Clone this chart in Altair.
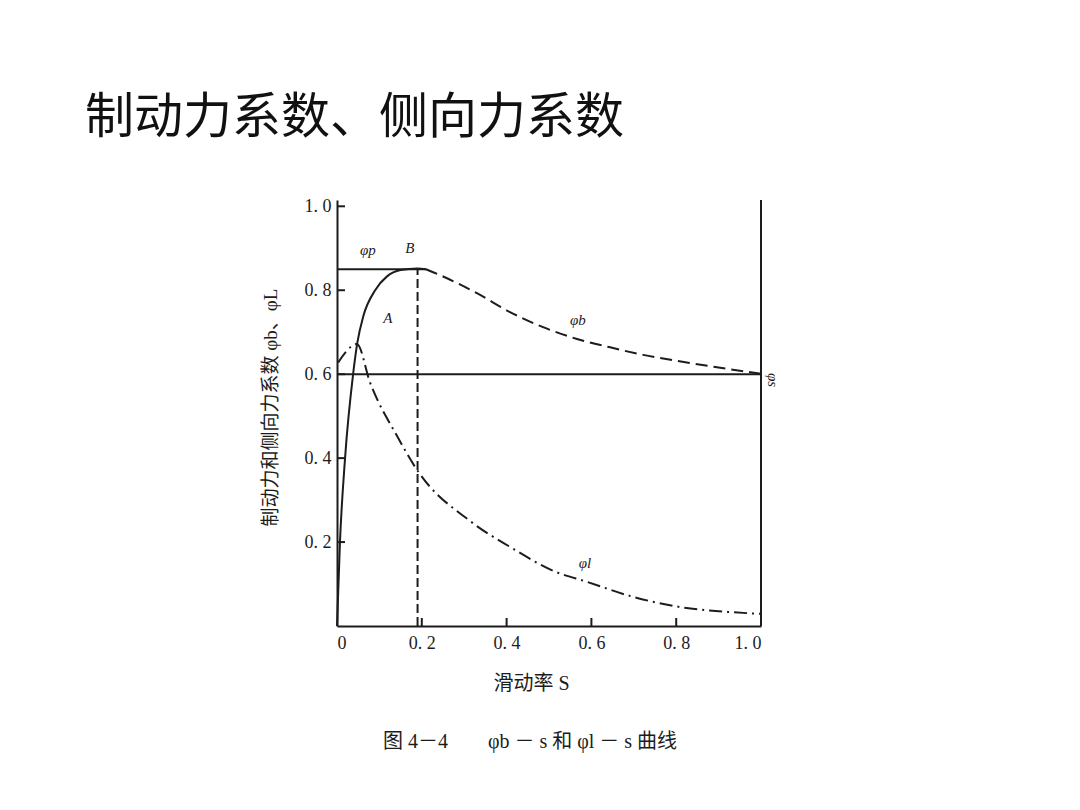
import altair as alt
import pandas as pd

# ---- data ----
rise_s = [0.0, 0.007, 0.019, 0.038, 0.048, 0.062, 0.09, 0.118, 0.15, 0.19, 0.21]
rise_v = [0.0, 0.2, 0.4, 0.6, 0.675, 0.738, 0.80, 0.833, 0.848, 0.852, 0.85]

fall_s = [0.21, 0.243, 0.33, 0.408, 0.486, 0.566, 0.644, 0.722, 0.80, 0.88, 0.958, 1.0]
fall_v = [0.85, 0.836, 0.793, 0.748, 0.712, 0.684, 0.664, 0.646, 0.632, 0.619, 0.607, 0.601]

lat_s = [0.003, 0.02, 0.047, 0.078, 0.142, 0.19, 0.314, 0.409, 0.511, 0.59, 0.693, 0.81, 0.93, 1.0]
lat_v = [0.628, 0.652, 0.672, 0.58, 0.452, 0.37, 0.25, 0.188, 0.131, 0.105, 0.071, 0.045, 0.033, 0.029]

phi_p = 0.85      # peak coefficient
phi_s = 0.60      # sliding coefficient
s_peak = 0.19     # slip ratio at peak (B)
s_peak_end = 0.21

x_ticks = [0, 0.2, 0.4, 0.6, 0.8, 1.0]
y_ticks = [0.2, 0.4, 0.6, 0.8, 1.0]

labels_text = ["φp", "B", "A", "φb", "φl"]
labels_s = [0.073, 0.172, 0.12, 0.568, 0.585]
labels_v = [0.895, 0.90, 0.733, 0.729, 0.15]

NB = "\u00a0"
title_text = "制动力系数、侧向力系数"
caption_text = ("图" + NB + "4－4" + "\u3000\u3000" + "φb" + NB + "－" + NB + "s" + NB + "和" + NB
                + "φl" + NB + "－" + NB + "s" + NB + "曲线")
x_title = "滑动率" + NB + "S"
y_title = "制动力和侧向力系数" + NB + "φb、φL"

W, H = 424, 426
INK = "#1c1c1c"
MIXED = "Liberation Serif, Noto Sans CJK SC"

xs = alt.Scale(domain=[0, 1.0], nice=False, zero=False)
ys = alt.Scale(domain=[0, 1.015], nice=False, zero=False)

fmt = "datum.value == 0 ? '0' : replace(format(datum.value, '.1f'), '.', '. ')"

x_axis = alt.Axis(values=x_ticks, labelExpr=fmt, ticks=False, grid=False,
                  domainColor=INK, domainWidth=2, labelFont="Liberation Serif",
                  labelFontSize=18, labelColor=INK, labelPadding=8,
                  title=x_title, titleFont=MIXED, titleFontSize=20,
                  titleFontWeight="normal", titleColor=INK, titleX=194, titleY=57,
                  titleBaseline="middle", titleAlign="center")
y_axis = alt.Axis(values=y_ticks, labelExpr=fmt, ticks=False, grid=False,
                  domainColor=INK, domainWidth=2, labelFont="Liberation Serif",
                  labelFontSize=18, labelColor=INK, labelPadding=6,
                  title=y_title, titleFont=MIXED, titleFontSize=19,
                  titleFontWeight="normal", titleColor=INK, titleX=-67, titleY=207,
                  titleAngle=270, titleBaseline="middle", titleAlign="center")

rise_df = pd.DataFrame({"s": rise_s, "v": rise_v})
fall_df = pd.DataFrame({"s": fall_s, "v": fall_v})
lat_df = pd.DataFrame({"s": lat_s, "v": lat_v})

base_axes = alt.Chart(pd.DataFrame({"s": [0.0, 1.0], "v": [0.0, 1.015]})).mark_point(opacity=0).encode(
    x=alt.X("s:Q", scale=xs, axis=x_axis),
    y=alt.Y("v:Q", scale=ys, axis=y_axis),
)

rise = alt.Chart(rise_df).mark_line(color=INK, strokeWidth=2, interpolate="monotone").encode(
    x=alt.X("s:Q", scale=xs), y=alt.Y("v:Q", scale=ys), order="s:Q")
fall = alt.Chart(fall_df).mark_line(color=INK, strokeWidth=2, interpolate="monotone",
                                    strokeDash=[12, 6]).encode(
    x=alt.X("s:Q", scale=xs), y=alt.Y("v:Q", scale=ys), order="s:Q")
lat = alt.Chart(lat_df).mark_line(color=INK, strokeWidth=2, interpolate="monotone",
                                  strokeDash=[13, 5, 2, 5]).encode(
    x=alt.X("s:Q", scale=xs), y=alt.Y("v:Q", scale=ys), order="s:Q")

hlines_df = pd.DataFrame({"s0": [0.0, 0.0], "s1": [s_peak_end, 1.0], "v": [phi_p, phi_s]})
hlines = alt.Chart(hlines_df).mark_rule(color=INK, strokeWidth=2).encode(
    x=alt.X("s0:Q", scale=xs), x2="s1:Q", y=alt.Y("v:Q", scale=ys))

vpeak_df = pd.DataFrame({"s": [s_peak], "v0": [0.0], "v1": [phi_p]})
vpeak = alt.Chart(vpeak_df).mark_rule(color=INK, strokeWidth=2, strokeDash=[9, 4]).encode(
    x=alt.X("s:Q", scale=xs), y=alt.Y("v0:Q", scale=ys), y2="v1:Q")

vright_df = pd.DataFrame({"s": [1.0], "v0": [0.0], "v1": [1.015]})
vright = alt.Chart(vright_df).mark_rule(color=INK, strokeWidth=2).encode(
    x=alt.X("s:Q", scale=xs), y=alt.Y("v0:Q", scale=ys), y2="v1:Q")

ytick_df = pd.DataFrame({"v": y_ticks})
yticks = alt.Chart(ytick_df).mark_rule(color=INK, strokeWidth=2).encode(
    x=alt.value(0), x2=alt.value(8), y=alt.Y("v:Q", scale=ys))
xtick_df = pd.DataFrame({"s": x_ticks[1:-1]})
xticks = alt.Chart(xtick_df).mark_rule(color=INK, strokeWidth=2).encode(
    x=alt.X("s:Q", scale=xs), y=alt.value(H), y2=alt.value(H - 8))

lab_df = pd.DataFrame({"t": labels_text, "s": labels_s, "v": labels_v})
labels = alt.Chart(lab_df).mark_text(font="Liberation Serif", fontSize=15, fontStyle="italic",
                                     color=INK, align="center", baseline="middle").encode(
    x=alt.X("s:Q", scale=xs), y=alt.Y("v:Q", scale=ys), text="t:N")

phis_lab = alt.Chart(pd.DataFrame({"t": ["φs"], "s": [1.028], "v": [0.586]})).mark_text(
    font="Liberation Serif", fontSize=15, fontStyle="italic", color=INK, angle=90,
    align="center", baseline="middle").encode(
    x=alt.X("s:Q", scale=xs), y=alt.Y("v:Q", scale=ys), text="t:N")

title = alt.Chart(pd.DataFrame({"t": [title_text]})).mark_text(
    font="Noto Sans CJK SC", fontSize=49, color="#111111", align="left", baseline="middle").encode(
    x=alt.value(85 - 337), y=alt.value(118 - 200), text="t:N")

caption = alt.Chart(pd.DataFrame({"t": [caption_text]})).mark_text(
    font=MIXED, fontSize=20, color=INK, align="center", baseline="middle").encode(
    x=alt.value(530 - 337), y=alt.value(742 - 200), text="t:N")

chart = alt.layer(base_axes, hlines, vpeak, vright, yticks, xticks, rise, fall, lat,
                  labels, phis_lab, title, caption).properties(
    width=W, height=H,
    autosize=alt.AutoSizeParams(type="none"),
    padding={"left": 337, "top": 200, "right": 1080 - 337 - W, "bottom": 810 - 200 - H},
    background="white",
).configure_view(stroke=None)

chart.save("out.html", embed_options={"renderer": "svg", "actions": False})
